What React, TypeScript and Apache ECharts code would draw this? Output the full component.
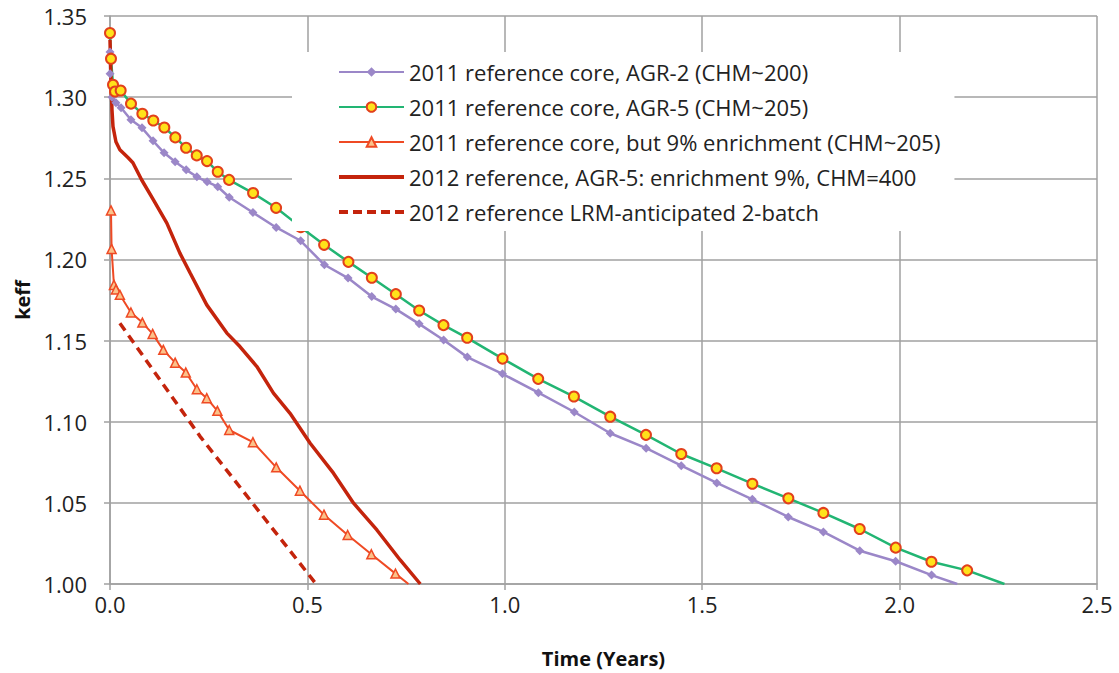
import React, { useEffect, useRef } from "react";
import * as echarts from "echarts";

// Burnup curves: time in years, keff at each step
const timeAgr2 = [0, 0.0001, 0.005, 0.015, 0.028, 0.053, 0.081, 0.109, 0.137, 0.165, 0.193, 0.22, 0.246, 0.273, 0.302, 0.362, 0.421, 0.483, 0.543, 0.603, 0.663, 0.724, 0.783, 0.845, 0.905, 0.994, 1.085, 1.176, 1.267, 1.358, 1.447, 1.537, 1.627, 1.718, 1.807, 1.899, 1.99, 2.081, 2.146];
const keffAgr2 = [1.3278, 1.3144, 1.3, 1.2965, 1.2935, 1.2861, 1.2811, 1.2731, 1.2657, 1.2602, 1.2552, 1.2509, 1.2478, 1.2448, 1.2383, 1.2289, 1.2197, 1.2115, 1.1967, 1.1885, 1.1771, 1.1694, 1.1603, 1.1504, 1.1398, 1.1295, 1.1179, 1.106, 1.0929, 1.0837, 1.0729, 1.0623, 1.0522, 1.0413, 1.0321, 1.0205, 1.014, 1.0055, 1.0];

const timeAgr5 = [0, 0.0025, 0.0076, 0.0127, 0.027, 0.0532, 0.0819, 0.1097, 0.1376, 0.1655, 0.1926, 0.2197, 0.2458, 0.2729, 0.3016, 0.3624, 0.4207, 0.4833, 0.5423, 0.6039, 0.6632, 0.724, 0.7831, 0.8447, 0.9047, 0.9942, 1.0846, 1.1751, 1.2671, 1.3576, 1.447, 1.5365, 1.627, 1.7182, 1.8069, 1.8989, 1.9901, 2.0806, 2.1711, 2.2656];
const keffAgr5 = [1.3395, 1.3237, 1.3076, 1.3035, 1.3041, 1.296, 1.2898, 1.2856, 1.2813, 1.2752, 1.2688, 1.2641, 1.2606, 1.254, 1.249, 1.2409, 1.2318, 1.2199, 1.209, 1.1985, 1.1887, 1.1786, 1.1685, 1.1595, 1.1517, 1.1389, 1.1264, 1.1155, 1.1031, 1.0919, 1.0801, 1.0713, 1.0618, 1.0528, 1.0438, 1.0339, 1.0224, 1.0137, 1.0084, 1.0];

const timeEnr9 = [0.0025, 0.004, 0.01, 0.015, 0.025, 0.053, 0.082, 0.108, 0.135, 0.165, 0.192, 0.22, 0.245, 0.272, 0.302, 0.362, 0.421, 0.481, 0.542, 0.602, 0.662, 0.723, 0.756];
const keffEnr9 = [1.2302, 1.2065, 1.1843, 1.1815, 1.1782, 1.1673, 1.1611, 1.1541, 1.1443, 1.1364, 1.1303, 1.12, 1.1145, 1.1067, 1.0949, 1.0874, 1.0719, 1.0575, 1.0427, 1.0302, 1.0183, 1.0064, 1.0];

const time2012 = [0, 0.0025, 0.005, 0.0076, 0.015, 0.025, 0.046, 0.058, 0.08, 0.11, 0.144, 0.177, 0.203, 0.245, 0.296, 0.329, 0.372, 0.414, 0.456, 0.507, 0.566, 0.617, 0.676, 0.735, 0.786];
const keff2012 = [1.3354, 1.3107, 1.2922, 1.2818, 1.2725, 1.2676, 1.2626, 1.2596, 1.2491, 1.2367, 1.2224, 1.2039, 1.1916, 1.172, 1.1546, 1.1463, 1.134, 1.1176, 1.1052, 1.0867, 1.0683, 1.0498, 1.0333, 1.0148, 1.0];

const timeLrm = [0.025, 0.228, 0.522];
const keffLrm = [1.1607, 1.091, 1.0];

const seriesNames = [
  "2011 reference core, AGR-2 (CHM~200)",
  "2011 reference core, AGR-5 (CHM~205)",
  "2011 reference core, but 9% enrichment (CHM~205)",
  "2012 reference, AGR-5: enrichment 9%, CHM=400",
  "2012 reference LRM-anticipated 2-batch",
];

const yTicks = { min: 1.0, max: 1.35, step: 0.05 };
const xTicks = { min: 0, max: 2.5, step: 0.5 };

const FONT = "'Open Sans', sans-serif";

// Legend swatches for the unmarked curves: a plain bar and a row of dashes
const SOLID_ICON = "path://M0,0h65v4h-65z";
const DASHED_ICON =
  "path://M0,0h9v4h-9z M14,0h9v4h-9z M28,0h9v4h-9z M42,0h9v4h-9z M56,0h9v4h-9z";

// Pair time/keff; the final point where the curve meets the axis carries no marker.
function pairs(t: number[], k: number[], bareLast: boolean) {
  return t.map((x, i) =>
    bareLast && i === t.length - 1
      ? { value: [x, k[i]], symbol: "none" }
      : [x, k[i]]
  );
}

export default function App() {
  const ref = useRef<HTMLDivElement>(null);

  useEffect(() => {
    if (!ref.current) return;
    const chart = echarts.init(ref.current, null, { renderer: "svg" });
    const gridColor = "#a0a0a0";

    chart.setOption({
      animation: false,
      backgroundColor: "#ffffff",
      grid: { left: 110, right: 22, top: 16, bottom: 89, containLabel: false },
      legend: {
        orient: "vertical",
        left: 292,
        top: 52,
        padding: [9, 14, 8, 46],
        backgroundColor: "#ffffff",
        itemWidth: 65,
        itemHeight: 12,
        itemGap: 13,
        textStyle: { fontFamily: FONT, fontSize: 22, color: "#222", lineHeight: 22 },
        data: [
          seriesNames[0],
          seriesNames[1],
          seriesNames[2],
          { name: seriesNames[3], icon: SOLID_ICON },
          { name: seriesNames[4], icon: DASHED_ICON },
        ],
      },
      xAxis: {
        type: "value",
        min: xTicks.min,
        max: xTicks.max,
        interval: xTicks.step,
        name: "Time (Years)",
        nameLocation: "middle",
        nameGap: 64,
        nameTextStyle: { fontFamily: FONT, fontSize: 20, fontWeight: "bold", color: "#111" },
        axisLine: { show: true, lineStyle: { color: gridColor, width: 1.5 } },
        axisTick: { show: true, length: 6, lineStyle: { color: gridColor, width: 1.5 } },
        axisLabel: {
          fontFamily: FONT,
          fontSize: 22,
          color: "#222",
          margin: 9,
          formatter: (v: number) => v.toFixed(1),
        },
        splitLine: { show: true, lineStyle: { color: gridColor, width: 1.5 } },
      },
      yAxis: {
        type: "value",
        min: yTicks.min,
        max: yTicks.max,
        interval: yTicks.step,
        name: "keff",
        nameLocation: "middle",
        nameGap: 72,
        nameRotate: 90,
        nameTextStyle: { fontFamily: FONT, fontSize: 20, fontWeight: "bold", color: "#111" },
        axisLine: { show: true, lineStyle: { color: gridColor, width: 1.5 } },
        axisTick: { show: true, inside: false, length: 6, lineStyle: { color: gridColor, width: 1.5 } },
        axisLabel: {
          fontFamily: FONT,
          fontSize: 22,
          color: "#222",
          margin: 23,
          formatter: (v: number) => v.toFixed(2),
        },
        splitLine: { show: true, lineStyle: { color: gridColor, width: 1.5 } },
      },
      series: [
        {
          name: seriesNames[0],
          type: "line",
          data: pairs(timeAgr2, keffAgr2, true),
          symbol: "diamond",
          symbolSize: 9,
          itemStyle: { color: "#9b87c8" },
          lineStyle: { color: "#9b87c8", width: 2.5 },
        },
        {
          name: seriesNames[1],
          type: "line",
          data: pairs(timeAgr5, keffAgr5, true),
          symbol: "circle",
          symbolSize: 10,
          itemStyle: { color: "#ffe21a", borderColor: "#e2401c", borderWidth: 2 },
          lineStyle: { color: "#22b573", width: 2.5 },
        },
        {
          name: seriesNames[2],
          type: "line",
          data: pairs(timeEnr9, keffEnr9, true),
          symbol: "triangle",
          symbolSize: 9,
          itemStyle: { color: "#fbc28a", borderColor: "#ef4a24", borderWidth: 1.5 },
          lineStyle: { color: "#ef4a24", width: 2 },
        },
        {
          name: seriesNames[3],
          type: "line",
          data: pairs(time2012, keff2012, false),
          symbol: "none",
          itemStyle: { color: "#c4240c" },
          lineStyle: { color: "#c4240c", width: 3.5 },
        },
        {
          name: seriesNames[4],
          type: "line",
          data: pairs(timeLrm, keffLrm, false),
          symbol: "none",
          itemStyle: { color: "#c4240c" },
          lineStyle: { color: "#c4240c", width: 3.5, type: [9, 6] },
        },
      ],
    });

    return () => chart.dispose();
  }, []);

  return <div ref={ref} style={{ width: 1119, height: 673, position: "absolute", left: 0, top: 0 }} />;
}
